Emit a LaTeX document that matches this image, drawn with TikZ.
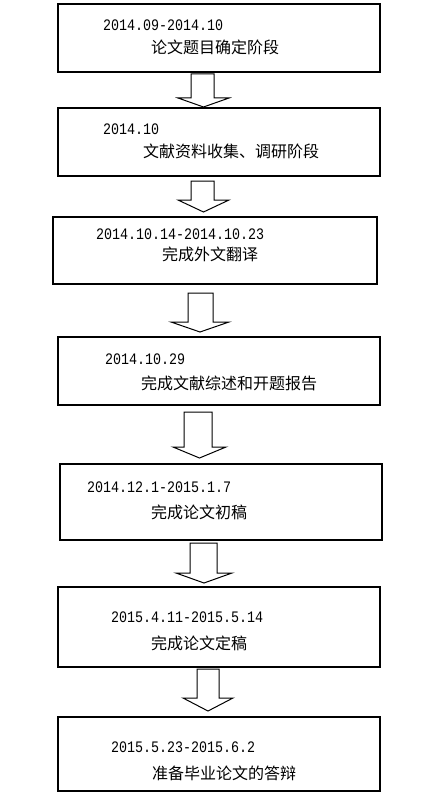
\documentclass[tikz,border=0pt]{standalone}
\usepackage{fontspec}
\newfontfamily\cjk{Noto Sans CJK SC}
\newfontfamily\dig[FakeStretch=0.833]{Liberation Mono}
\begin{document}
\begin{tikzpicture}[x=1pt,y=-1pt,
  stagebox/.style={draw=black,line width=2pt},
  datetxt/.style={anchor=base west,inner sep=0pt,font=\dig\fontsize{16}{16}\selectfont},
  cntxt/.style={anchor=west,inner sep=0pt,font=\cjk\fontsize{16}{16}\selectfont},
  blockarrow/.style={draw=black,line width=1pt,fill=white,line join=miter}]
\useasboundingbox[fill=white] (0,0) rectangle (426,797);
% boxes
\draw[stagebox] (58,4) rectangle (380,72);
\draw[stagebox] (58,108) rectangle (380,176);
\draw[stagebox] (53,217) rectangle (377,284);
\draw[stagebox] (58,337) rectangle (380,405);
\draw[stagebox] (60,464) rectangle (382,540);
\draw[stagebox] (58,587) rectangle (380,667);
\draw[stagebox] (58,717) rectangle (380,791);
% texts
\node[datetxt] (d1) at (103,31) {2014.09-2014.10};
\node[cntxt] (c1) at (151,47) {论文题目确定阶段};
\node[datetxt] (d2) at (103,135) {2014.10};
\node[cntxt] (c2) at (143,151) {文献资料收集、调研阶段};
\node[datetxt] (d3) at (96,239) {2014.10.14-2014.10.23};
\node[cntxt] (c3) at (162,254) {完成外文翻译};
\node[datetxt] (d4) at (105,364) {2014.10.29};
\node[cntxt] (c4) at (141,383) {完成文献综述和开题报告};
\node[datetxt] (d5) at (87,492) {2014.12.1-2015.1.7};
\node[cntxt] (c5) at (151,512) {完成论文初稿};
\node[datetxt] (d6) at (111,622) {2015.4.11-2015.5.14};
\node[cntxt] (c6) at (151,643) {完成论文定稿};
\node[datetxt] (d7) at (111,752) {2015.5.23-2015.6.2};
\node[cntxt] (c7) at (152,773) {准备毕业论文的答辩};
% block arrows
\newcommand\blkarrow[7]{% top, bodyL, bodyR, headY, headL, headR, tipY
  \draw[blockarrow] (#2,#1) -- (#3,#1) -- (#3,#4) -- (#6,#4) -- ({(#5+#6)/2},#7) -- (#5,#4) -- (#2,#4) -- cycle;}
\blkarrow{74}{191}{214}{98}{178}{229}{107}
\blkarrow{181}{191}{214}{200}{178}{229}{212}
\blkarrow{293}{188}{213}{322}{171}{229}{332}
\blkarrow{412}{184}{212}{447}{173}{226}{458}
\blkarrow{543}{190}{217}{573}{176}{232}{583}
\blkarrow{669}{197}{219}{698}{183}{233}{711}
\end{tikzpicture}
\end{document}
